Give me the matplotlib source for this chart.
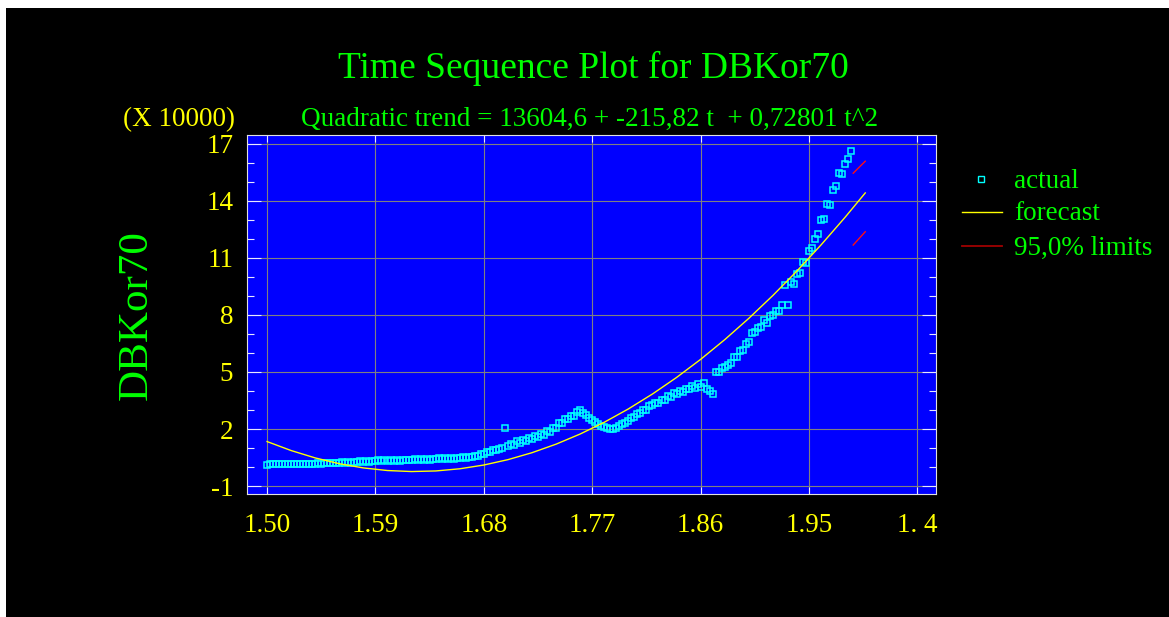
import matplotlib
matplotlib.use("Agg")
import matplotlib.pyplot as plt
import numpy as np
from matplotlib.lines import Line2D
from matplotlib.patches import Rectangle

# actual series, one reading every 3 months (raw units)
actual = [
    1300, 1580, 1350, 1620, 1380, 1600, 1360, 1640, 1420, 1600,
    1440, 1660, 1450, 1720, 1500, 1820, 1640, 1980, 1760, 2100,
    1850, 2200, 1960, 2340, 2060, 2450, 2170, 2600, 2320, 2780,
    2520, 2980, 2700, 3200, 2900, 3400, 3100, 3550, 3200, 3650,
    3300, 3700, 3350, 3820, 3400, 3850, 3500, 3950, 3550, 4000,
    3650, 4100, 3750, 4200, 3850, 4350, 4050, 4500, 4150, 4600,
    4250, 4700, 4400, 4850, 4550, 5050, 4750, 5300, 5100, 5750,
    5800, 6700, 7000, 7800, 7800, 8800, 8900, 9700, 9800, 20400,
    11000, 12300, 11800, 13500, 12800, 14300, 13700, 15200, 14800, 16400,
    15900, 17500, 17000, 18800, 18400, 20500, 20500, 23100, 23000, 25100,
    25100, 27100, 26900, 29200, 29900, 28500, 27200, 25800, 24800, 23800,
    22400, 21800, 21100, 20500, 20100, 20000, 20500, 21600, 22400, 23300,
    24000, 25800, 26500, 27800, 28200, 30200, 30000, 32000, 32400, 33900,
    33800, 35500, 35200, 37200, 37000, 38800, 38500, 40000, 39600, 41200,
    41000, 42500, 41500, 43500, 42300, 44200, 41000, 40200, 38200, 49800,
    50200, 52000, 52600, 53500, 54500, 58000, 57800, 60800, 61500, 64800,
    66000, 70500, 71200, 73000, 73500, 77500, 75800, 79500, 80000, 82000,
    82000, 85500, 95800, 85000, 97500, 96500, 101500, 102000, 108000, 107500,
    113500, 115000, 120000, 122500, 130000, 130500, 138500, 138000, 146000, 148000,
    154500, 154000, 159500, 162000, 166500,
]
actual_step = 3

# fitted quadratic trend, read every 24 months, plus the forecast end
trend_months = [0, 24, 48, 72, 96, 120, 144, 168, 192, 216, 240, 264, 288,
                312, 336, 360, 384, 408, 432, 456, 480, 504, 528, 552, 576, 596]
trend = [13389, 8664, 4777, 1729, -480, -1851, -2383, -2076, -931, 1053,
         3875, 7537, 12037, 17375, 23553, 30569, 38423, 47116, 56648, 67019,
         78228, 90276, 103163, 116888, 131452, 144228]

# 95% limits for the forecast period
limit_months = [584, 596]
upper = [154600, 160900]
lower = [116800, 123800]

xtick_months = [0, 108, 216, 324, 432, 540, 648]
xtick_labels = ["1.50", "1.59", "1.68", "1.77", "1.86", "1.95", "1. 4"]
ytick_values = [-1, 2, 5, 8, 11, 14, 17]
ytick_labels = ["-1", "2", "5", "8", "11", "14", "17"]

SCALE = 10000.0
plt.rcParams["font.family"] = ["Liberation Serif", "DejaVu Serif"]
plt.rcParams["axes.unicode_minus"] = False

fig = plt.figure(figsize=(11.69, 6.17), dpi=100)
fig.patch.set_facecolor("white")
fig.add_artist(Rectangle((6 / 1169, 0), 1, 1 - 8 / 617, transform=fig.transFigure,
                         facecolor="black", edgecolor="none", zorder=-10))

ax = fig.add_axes([247 / 1169, 1 - 494 / 617, 689 / 1169, 359 / 617])
ax.set_facecolor("#0000ff")

months = np.arange(len(actual)) * actual_step
ax.plot(months, np.array(actual) / SCALE, linestyle="none", marker="s",
        markersize=4.6, markerfacecolor="none", markeredgecolor="#00ffff",
        markeredgewidth=1.1, zorder=3)
ax.plot(trend_months, np.array(trend) / SCALE, color="#ffff00", lw=1.0, zorder=4)
ax.plot(limit_months, np.array(upper) / SCALE, color="#ff1010", lw=1.0, zorder=4)
ax.plot(limit_months, np.array(lower) / SCALE, color="#ff1010", lw=1.0, zorder=4)

ax.set_xlim(-20, 666.5)
ax.set_ylim(-1.42, 17.47)
ax.set_xticks(xtick_months)
ax.set_xticklabels(xtick_labels)
ax.set_yticks(ytick_values)
ax.set_yticklabels(ytick_labels)
ax.set_yticks(np.arange(-1, 18, 1), minor=True)
ax.grid(True, color="#808080", lw=0.8)
ax.set_axisbelow(True)

ax.tick_params(axis="both", which="both", direction="in", colors="#e8e8ff",
               top=True, right=True, labelcolor="#ffff00", labelsize=19.5)
ax.tick_params(axis="y", which="major", length=10, width=0.8, pad=10)
ax.tick_params(axis="y", which="minor", length=5, width=0.8)
ax.tick_params(axis="x", which="major", length=5, width=0.8, pad=14)
for s in ax.spines.values():
    s.set_color("#e0e0e0")
    s.set_linewidth(0.8)

fig.text(593 / 1169, 1 - 68 / 617, "Time Sequence Plot for DBKor70",
         color="#00ff00", fontsize=27, ha="center", va="center")
fig.text(590 / 1169, 1 - 119 / 617,
         "Quadratic trend = 13604,6 + -215,82 t  + 0,72801 t^2",
         color="#00ff00", fontsize=19.5, ha="center", va="center")
fig.text(235 / 1169, 1 - 120 / 617, "(X 10000)", color="#ffff00",
         fontsize=19.5, ha="right", va="center")
fig.text(137 / 1169, 1 - 315 / 617, "DBKor70", color="#00ff00",
         fontsize=31, rotation=90, ha="center", va="center")

# legend on the right
fig.add_artist(Line2D([981 / 1169], [1 - 179 / 617], marker="s", markersize=4.0,
                      markerfacecolor="none", markeredgecolor="#00ffff",
                      markeredgewidth=1.0, transform=fig.transFigure))
fig.add_artist(Line2D([962 / 1169, 1002 / 1169], [1 - 212 / 617] * 2,
                      color="#ffff00", lw=1.0, transform=fig.transFigure))
fig.add_artist(Line2D([962 / 1169, 1002 / 1169], [1 - 246 / 617] * 2,
                      color="#a00000", lw=1.3, transform=fig.transFigure))
for y, label in [(181, "actual"), (214, "forecast"), (248, "95,0% limits")]:
    fig.text(1014 / 1169, 1 - y / 617, label, color="#00ff00", fontsize=19.5,
             ha="left", va="center")

fig.savefig("out.png", dpi=100, facecolor=fig.get_facecolor())
